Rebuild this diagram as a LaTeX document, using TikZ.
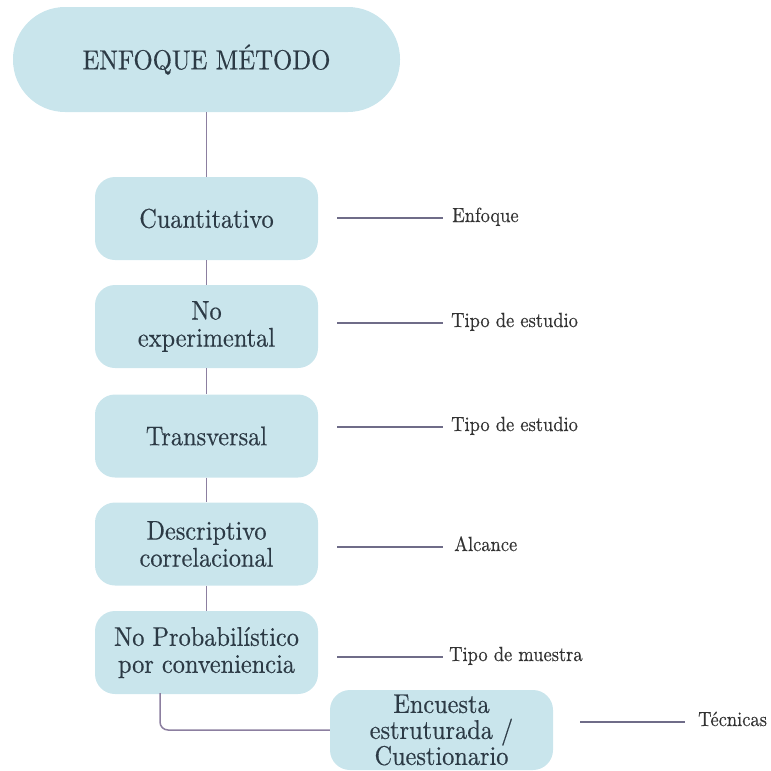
\documentclass[tikz,border=0pt]{standalone}
\usepackage{fontspec}
\newfontfamily\tnr{lmroman10-regular.otf}[FakeStretch=0.9, FakeBold=0.4]
\definecolor{boxfill}{HTML}{C9E5EC}
\definecolor{boxtext}{HTML}{2C3A45}
\definecolor{vline}{HTML}{8C7FA0}
\definecolor{hline}{HTML}{6F6C88}
\definecolor{labtext}{HTML}{333333}
\tikzset{
  stepbox/.style={rectangle, fill=boxfill, rounded corners=20pt, minimum width=223pt, minimum height=83pt,
    align=center, text=boxtext, inner sep=0pt, font=\tnr\fontsize{27}{27}\selectfont},
  titlebox/.style={rectangle, fill=boxfill, rounded corners=52pt, minimum width=387pt, minimum height=105pt,
    align=center, text=boxtext, inner sep=0pt, font=\tnr\fontsize{27.5}{28}\selectfont},
  conn/.style={draw=vline, line width=1.5pt},
  lconn/.style={draw=hline, line width=1.5pt},
  lab/.style={anchor=base west, inner sep=0pt, text=labtext, font=\tnr\fontsize{20.5}{22}\selectfont}
}
\begin{document}
\begin{tikzpicture}[x=1pt,y=-1pt]
\useasboundingbox (0,0) rectangle (771,771);
% main nodes
\node[titlebox] (top) at (206.5,59.5) {ENFOQUE MÉTODO};
\node[stepbox] (cuant) at (206.5,218.5) {Cuantitativo};
\node[stepbox] (noexp) at (206.5,326.5) {No\\experimental};
\node[stepbox] (transv) at (206.5,436) {Transversal};
\node[stepbox] (desc) at (206.5,544) {Descriptivo\\correlacional};
\node[stepbox] (noprob) at (206.5,652.5) {No Probabilístico\\por conveniencia};
\node[stepbox, minimum height=80pt, font=\tnr\fontsize{27}{26}\selectfont] (enc) at (441.5,730) {Encuesta\\estruturada /\\Cuestionario};
% vertical connectors
\draw[conn] (top.south) -- (cuant.north);
\draw[conn] (cuant.south) -- (noexp.north);
\draw[conn] (noexp.south) -- (transv.north);
\draw[conn] (transv.south) -- (desc.north);
\draw[conn] (desc.south) -- (noprob.north);
\coordinate (elb) at (160,693);
\draw[conn, rounded corners=8pt] (elb) |- (enc.west);
% side labels
\coordinate (s1) at (337,218); \coordinate (e1) at (443,218);
\node[lab] (l1) at (452,222) {Enfoque};
\coordinate (s2) at (337,323); \coordinate (e2) at (443,323);
\node[lab] (l2) at (451,327) {Tipo de estudio};
\coordinate (s3) at (337,427); \coordinate (e3) at (443,427);
\node[lab] (l3) at (451,431) {Tipo de estudio};
\coordinate (s4) at (337,547); \coordinate (e4) at (443,547);
\node[lab] (l4) at (454,551) {Alcance};
\coordinate (s5) at (337,657); \coordinate (e5) at (443,657);
\node[lab] (l5) at (449,661) {Tipo de muestra};
\coordinate (s6) at (580,722); \coordinate (e6) at (685,722);
\node[lab] (l6) at (698,726) {Técnicas};
\draw[lconn] (s1) -- (e1);
\draw[lconn] (s2) -- (e2);
\draw[lconn] (s3) -- (e3);
\draw[lconn] (s4) -- (e4);
\draw[lconn] (s5) -- (e5);
\draw[lconn] (s6) -- (e6);
\end{tikzpicture}
\end{document}
